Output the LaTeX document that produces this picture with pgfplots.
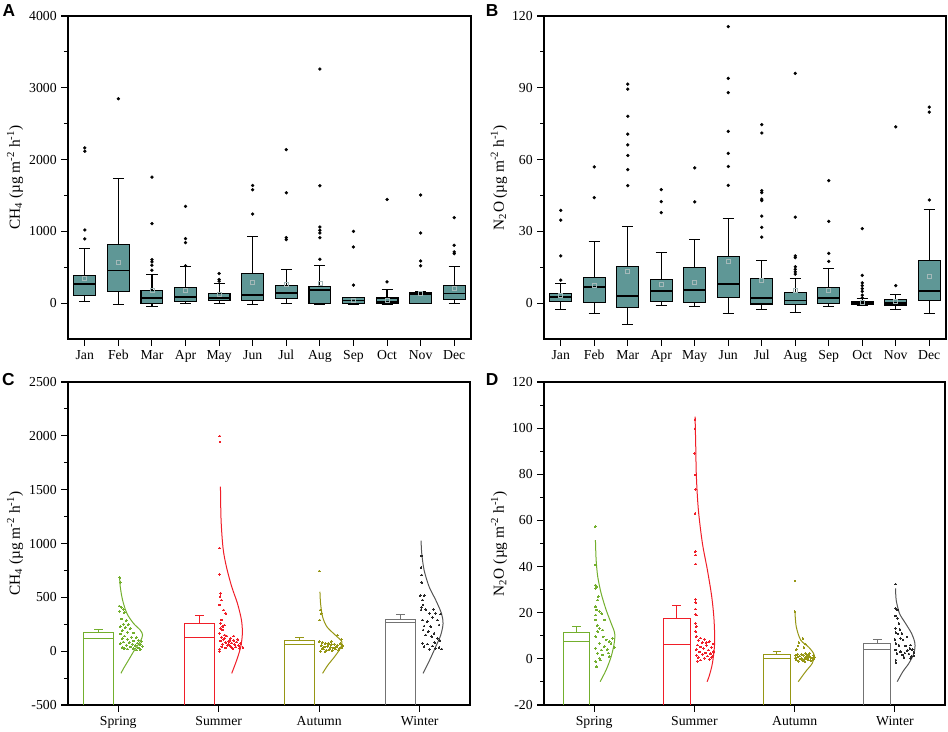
\documentclass[border=0pt]{standalone}
\usepackage{pgfplots}
\pgfplotsset{compat=1.18}
\usepgfplotslibrary{statistics}
\usepackage{fontspec}
\setmainfont{Liberation Serif}
\newfontfamily\panelfont{Liberation Sans}
\definecolor{boxteal}{RGB}{95,151,150}
\definecolor{meanc}{RGB}{165,185,185}
\definecolor{spr}{RGB}{115,175,45}
\definecolor{sum}{RGB}{240,30,40}
\definecolor{aut}{RGB}{150,150,20}
\definecolor{winbar}{RGB}{115,115,115}
\definecolor{wincur}{RGB}{85,85,85}
\definecolor{windot}{RGB}{40,40,40}
\pgfplotsset{
  panel/.style={scale only axis, axis line style={line width=0.9pt},
    tick style={line width=0.8pt, black}, tick align=outside,
    xtick pos=bottom, ytick pos=left, major tick length=5pt, minor tick length=3pt,
    minor y tick num=1, scaled y ticks=false,
    tick label style={font=\fontsize{10.3}{12}\selectfont},
    label style={font=\fontsize{11.5}{13}\selectfont},
    /pgf/number format/assume math mode=true,
    /pgf/number format/1000 sep={}},
  mybox/.style={boxplot/draw direction=y, boxplot/box extend=0.65, boxplot/whisker extend=0.33,
    boxplot/every box/.style={draw=black,fill=boxteal,line width=0.9pt},
    boxplot/every whisker/.style={black,line width=0.9pt},
    boxplot/every median/.style={black,line width=1.4pt},
    black, mark=*, mark size=1.1pt, mark options={fill=black,draw=black,line width=0.3pt}},
  meanmk/.style={only marks, mark=square, mark size=1.5pt, mark options={draw=meanc, line width=0.5pt}},
  dots/.style={only marks, mark=*, mark size=0.65pt, mark options={line width=0pt}},
  curve/.style={smooth, no marks, line width=0.75pt},
  barline/.style={no marks, line width=0.75pt}
}
\begin{document}
\begin{tikzpicture}
\useasboundingbox (0,0) rectangle (711pt,-548.25pt);
\node[font=\panelfont\bfseries\fontsize{13}{13}\selectfont] at (6.75pt,-8.25pt) {A};
\node[font=\panelfont\bfseries\fontsize{13}{13}\selectfont] at (369pt,-7.9pt) {B};
\node[font=\panelfont\bfseries\fontsize{13}{13}\selectfont] at (6.2pt,-284.8pt) {C};
\node[font=\panelfont\bfseries\fontsize{13}{13}\selectfont] at (369pt,-285pt) {D};

% ---------------- A ----------------
\begin{axis}[panel, at={(51pt,-254.25pt)}, anchor=south west, width=302.25pt, height=242.25pt,
  xmin=0.5, xmax=12.5, ymin=-500, ymax=4000, ytick={0,1000,2000,3000,4000},
  xtick={1,...,12}, xticklabels={Jan,Feb,Mar,Apr,May,Jun,Jul,Aug,Sep,Oct,Nov,Dec},
  ylabel={CH\textsubscript{4} (µg m\textsuperscript{-2} h\textsuperscript{-1})},
  ylabel style={at={(axis description cs:-0.1315,0.5)}, anchor=center}]
\addplot[mybox, boxplot prepared={draw position=1, lower whisker=19, lower quartile=111, median=264, upper quartile=384, upper whisker=759}] coordinates {(0,2162) (0,2116) (0,1019) (0,894)};
\addplot[mybox, boxplot prepared={draw position=2, lower whisker=-19, lower quartile=167, median=454, upper quartile=815, upper whisker=1741}] coordinates {(0,2848)};
\addplot[mybox, boxplot prepared={draw position=3, lower whisker=-42, lower quartile=-5, median=74, upper quartile=176, upper whisker=403}] coordinates {(0,1755) (0,1107) (0,607) (0,574) (0,528) (0,458)};
\addplot[mybox, boxplot prepared={draw position=4, lower whisker=-9, lower quartile=19, median=88, upper quartile=218, upper whisker=505}] coordinates {(0,1347) (0,898) (0,843) (0,519)};
\addplot[mybox, boxplot prepared={draw position=5, lower whisker=-9, lower quartile=32, median=74, upper quartile=139, upper whisker=273}] coordinates {(0,412) (0,329) (0,306)};
\addplot[mybox, boxplot prepared={draw position=6, lower whisker=-19, lower quartile=32, median=111, upper quartile=412, upper whisker=931}] coordinates {(0,1639) (0,1579) (0,1241)};
\addplot[mybox, boxplot prepared={draw position=7, lower whisker=-5, lower quartile=65, median=144, upper quartile=241, upper whisker=463}] coordinates {(0,2139) (0,1537) (0,912) (0,884)};
\addplot[mybox, boxplot prepared={draw position=8, lower whisker=-19, lower quartile=-5, median=185, upper quartile=236, upper whisker=519}] coordinates {(0,3260) (0,1634) (0,1060) (0,1014) (0,977) (0,912) (0,611)};
\addplot[mybox, boxplot prepared={draw position=9, lower whisker=-14, lower quartile=-5, median=37, upper quartile=74, upper whisker=79}] coordinates {(0,1000) (0,782) (0,250)};
\addplot[mybox, boxplot prepared={draw position=10, lower whisker=-19, lower quartile=-9, median=21, upper quartile=70, upper whisker=185}] coordinates {(0,1444) (0,296)};
\addplot[mybox, boxplot prepared={draw position=11, lower whisker=-9, lower quartile=-5, median=125, upper quartile=153, upper whisker=157}] coordinates {(0,1505) (0,977) (0,588) (0,519)};
\addplot[mybox, boxplot prepared={draw position=12, lower whisker=-9, lower quartile=46, median=134, upper quartile=241, upper whisker=505}] coordinates {(0,1190) (0,806) (0,713) (0,690)};
\addplot[meanmk] coordinates {(1,352) (2,574) (3,180) (4,176) (5,116) (6,287) (7,259) (8,273) (9,42) (10,32) (11,134) (12,199)};
\end{axis}

% ---------------- B ----------------
\begin{axis}[panel, at={(408pt,-254.25pt)}, anchor=south west, width=301.5pt, height=242.25pt,
  xmin=0.5, xmax=12.5, ymin=-15, ymax=120, ytick={0,30,60,90,120},
  xtick={1,...,12}, xticklabels={Jan,Feb,Mar,Apr,May,Jun,Jul,Aug,Sep,Oct,Nov,Dec},
  ylabel={N\textsubscript{2}O (µg m\textsuperscript{-2} h\textsuperscript{-1})},
  ylabel style={at={(axis description cs:-0.112,0.5)}, anchor=center}]
\addplot[mybox, boxplot prepared={draw position=1, lower whisker=-2.8, lower quartile=0.7, median=2.65, upper quartile=4.0, upper whisker=8.1}] coordinates {(0,38.8) (0,34.7) (0,19.7) (0,9.6)};
\addplot[mybox, boxplot prepared={draw position=2, lower whisker=-4.5, lower quartile=0.1, median=6.6, upper quartile=10.7, upper whisker=25.7}] coordinates {(0,56.9) (0,44.1)};
\addplot[mybox, boxplot prepared={draw position=3, lower whisker=-8.8, lower quartile=-1.8, median=2.8, upper quartile=15.2, upper whisker=31.9}] coordinates {(0,91.5) (0,89.4) (0,78.1) (0,70.6) (0,66.1) (0,61.7) (0,55.8) (0,49.1)};
\addplot[mybox, boxplot prepared={draw position=4, lower whisker=-1.1, lower quartile=0.7, median=5.2, upper quartile=9.9, upper whisker=21.3}] coordinates {(0,47.4) (0,42.4) (0,37.8)};
\addplot[mybox, boxplot prepared={draw position=5, lower whisker=-1.5, lower quartile=0.3, median=5.4, upper quartile=14.9, upper whisker=26.5}] coordinates {(0,56.5) (0,42.3)};
\addplot[mybox, boxplot prepared={draw position=6, lower whisker=-4.2, lower quartile=2.5, median=8.1, upper quartile=19.4, upper whisker=35.2}] coordinates {(0,115.6) (0,93.9) (0,88.0) (0,71.8) (0,62.6) (0,57.1) (0,49.2)};
\addplot[mybox, boxplot prepared={draw position=7, lower whisker=-2.8, lower quartile=-0.4, median=2.0, upper quartile=10.3, upper whisker=17.9}] coordinates {(0,74.6) (0,71.1) (0,47.0) (0,46.2) (0,43.5) (0,42.8) (0,36.4) (0,31.7) (0,27.6)};
\addplot[mybox, boxplot prepared={draw position=8, lower whisker=-3.9, lower quartile=-0.6, median=1.1, upper quartile=4.3, upper whisker=10.3}] coordinates {(0,96.0) (0,35.9) (0,19.7) (0,19.0) (0,15.2) (0,14.1) (0,13.1) (0,12.1)};
\addplot[mybox, boxplot prepared={draw position=9, lower whisker=-1.3, lower quartile=0, median=2.0, upper quartile=6.6, upper whisker=14.5}] coordinates {(0,51.2) (0,34.2) (0,20.8) (0,17.4)};
\addplot[mybox, boxplot prepared={draw position=10, lower whisker=-1.0, lower quartile=-0.7, median=0, upper quartile=0.6, upper whisker=1.8}] coordinates {(0,31.1) (0,11.6) (0,8.5) (0,7.3) (0,6.1) (0,4.9) (0,3.3) (0,2.2)};
\addplot[mybox, boxplot prepared={draw position=11, lower whisker=-2.8, lower quartile=-0.8, median=0.1, upper quartile=1.4, upper whisker=3.6}] coordinates {(0,73.7) (0,7.3)};
\addplot[mybox, boxplot prepared={draw position=12, lower whisker=-4.3, lower quartile=1.0, median=5.0, upper quartile=17.7, upper whisker=39.2}] coordinates {(0,81.9) (0,79.8) (0,43.1)};
\addplot[meanmk] coordinates {(1,3.3) (2,7.4) (3,13.4) (4,8.0) (5,8.5) (6,17.3) (7,9.5) (8,5.4) (9,5.3) (10,0.3) (11,0.6) (12,11.0)};
\end{axis}

% ---------------- C ----------------
\begin{axis}[panel, at={(51pt,-528.75pt)}, anchor=south west, width=301.5pt, height=242.25pt,
  xmin=0.5, xmax=4.5, ymin=-500, ymax=2500, ytick={-500,0,500,1000,1500,2000,2500},
  xtick={1,2,3,4}, xticklabels={Spring,Summer,Autumn,Winter},
  ylabel={CH\textsubscript{4} (µg m\textsuperscript{-2} h\textsuperscript{-1})},
  ylabel style={at={(axis description cs:-0.1318,0.5)}, anchor=center}]
\addplot[barline, spr] coordinates {(0.655,-500) (0.655,174) (0.957,174) (0.957,-500)};
\addplot[barline, spr] coordinates {(0.655,118) (0.957,118)};
\addplot[barline, spr] coordinates {(0.806,174) (0.806,205)};
\addplot[barline, spr] coordinates {(0.763,205) (0.849,205)};
\addplot[barline, sum] coordinates {(1.655,-500) (1.655,254) (1.957,254) (1.957,-500)};
\addplot[barline, sum] coordinates {(1.655,124) (1.957,124)};
\addplot[barline, sum] coordinates {(1.806,254) (1.806,335)};
\addplot[barline, sum] coordinates {(1.763,335) (1.849,335)};
\addplot[barline, aut] coordinates {(2.655,-500) (2.655,96) (2.957,96) (2.957,-500)};
\addplot[barline, aut] coordinates {(2.655,65) (2.957,65)};
\addplot[barline, aut] coordinates {(2.806,96) (2.806,127)};
\addplot[barline, aut] coordinates {(2.763,127) (2.849,127)};
\addplot[barline, winbar] coordinates {(3.655,-500) (3.655,296) (3.957,296) (3.957,-500)};
\addplot[barline, winbar] coordinates {(3.655,268) (3.957,268)};
\addplot[barline, winbar] coordinates {(3.806,296) (3.806,341)};
\addplot[barline, winbar] coordinates {(3.763,341) (3.849,341)};
\addplot[curve, spr] coordinates {(1.013,692) (1.02,599) (1.043,475) (1.086,351) (1.152,258) (1.218,197) (1.242,150) (1.218,88) (1.162,11) (1.103,-82) (1.053,-160) (1.027,-206)};
\addplot[curve, sum] coordinates {(2.017,1528) (2.023,1218) (2.043,955) (2.076,785) (2.129,599) (2.186,444) (2.226,289) (2.235,165) (2.219,42) (2.179,-82) (2.129,-206)};
\addplot[curve, aut] coordinates {(3.007,552) (3.013,444) (3.033,320) (3.076,227) (3.159,150) (3.225,88) (3.209,26) (3.153,-51) (3.086,-129) (3.033,-206)};
\addplot[curve, wincur] coordinates {(4.013,1026) (4.02,908) (4.043,754) (4.093,599) (4.159,475) (4.216,351) (4.232,258) (4.209,150) (4.159,42) (4.099,-82) (4.033,-206)};
\addplot[dots, spr] coordinates {(1.013,683) (1.02,640) (1.01,419) (1.03,407) (1.05,390) (1.015,370) (1.06,360) (1.03,300) (1.08,285) (1.05,250) (1.10,245) (1.02,230) (1.07,220) (1.12,210) (1.04,190) (1.09,175) (1.15,170) (1.02,160) (1.06,140) (1.13,130) (1.18,125) (1.04,115) (1.09,110) (1.20,100) (1.15,95) (1.23,90) (1.05,85) (1.11,80) (1.19,75) (1.02,70) (1.14,65) (1.22,60) (1.08,55) (1.17,50) (1.24,45) (1.12,40) (1.04,35) (1.20,30) (1.15,25) (1.09,20) (1.22,15) (1.18,10) (1.06,25)};
\addplot[dots, sum] coordinates {(2.01,1998) (2.013,1943) (2.007,958) (2.007,714) (2.02,537) (2.013,506) (2.026,475) (2.01,429) (2.05,382) (2.07,351) (2.03,290) (2.056,243) (2.02,212) (2.036,197) (2.007,166) (2.06,150) (2.02,260) (2.04,230) (2.03,130) (2.08,140) (2.12,120) (2.05,110) (2.15,100) (2.02,95) (2.10,90) (2.18,85) (2.07,80) (2.13,75) (2.22,70) (2.04,65) (2.16,60) (2.09,55) (2.20,50) (2.12,45) (2.03,40) (2.17,38) (2.24,35) (2.07,30) (2.14,25) (2.21,28) (2.11,100) (2.19,110) (2.06,120) (2.24,30) (2.01,20) (2.10,60) (2.15,140) (2.01,0)};
\addplot[dots, aut] coordinates {(3.0,744) (3.01,382) (3.02,350) (3.005,289) (3.0,88) (3.03,80) (3.06,70) (3.09,75) (3.12,60) (3.15,65) (3.18,55) (3.21,70) (3.02,50) (3.05,40) (3.08,45) (3.11,35) (3.14,30) (3.17,40) (3.20,25) (3.23,50) (3.04,20) (3.07,10) (3.10,15) (3.13,5) (3.16,20) (3.19,10) (3.01,0) (3.06,-5) (3.22,30) (3.18,150) (3.22,110) (3.09,60) (3.12,90) (3.03,25)};
\addplot[dots, windot] coordinates {(4.02,884) (4.013,778) (4.02,707) (4.02,639) (4.006,515) (4.046,515) (4.027,475) (4.033,429) (4.02,407) (4.013,382) (4.06,388) (4.139,388) (4.099,351) (4.159,351) (4.126,314) (4.209,345) (4.027,289) (4.076,274) (4.176,289) (4.043,233) (4.109,227) (4.192,243) (4.033,196) (4.086,181) (4.143,165) (4.06,150) (4.119,134) (4.176,119) (4.027,72) (4.076,66) (4.126,48) (4.159,26) (4.192,35) (4.043,42) (4.099,17) (4.20,100) (4.15,80) (4.22,20)};
\end{axis}

% ---------------- D ----------------
\begin{axis}[panel, at={(408pt,-528.75pt)}, anchor=south west, width=300.75pt, height=242.25pt,
  xmin=0.5, xmax=4.5, ymin=-20, ymax=120, ytick={-20,0,20,40,60,80,100,120},
  xtick={1,2,3,4}, xticklabels={Spring,Summer,Autumn,Winter},
  ylabel={N\textsubscript{2}O (µg m\textsuperscript{-2} h\textsuperscript{-1})},
  ylabel style={at={(axis description cs:-0.112,0.5)}, anchor=center}]
\addplot[barline, spr] coordinates {(0.691,-20) (0.691,11.35) (0.957,11.35) (0.957,-20)};
\addplot[barline, spr] coordinates {(0.691,7.45) (0.957,7.45)};
\addplot[barline, spr] coordinates {(0.824,11.35) (0.824,13.95)};
\addplot[barline, spr] coordinates {(0.781,13.95) (0.867,13.95)};
\addplot[barline, sum] coordinates {(1.691,-20) (1.691,17.57) (1.957,17.57) (1.957,-20)};
\addplot[barline, sum] coordinates {(1.691,6.3) (1.957,6.3)};
\addplot[barline, sum] coordinates {(1.824,17.57) (1.824,23.0)};
\addplot[barline, sum] coordinates {(1.781,23.0) (1.867,23.0)};
\addplot[barline, aut] coordinates {(2.691,-20) (2.691,1.8) (2.957,1.8) (2.957,-20)};
\addplot[barline, aut] coordinates {(2.691,0.2) (2.957,0.2)};
\addplot[barline, aut] coordinates {(2.824,1.8) (2.824,3.0)};
\addplot[barline, aut] coordinates {(2.781,3.0) (2.867,3.0)};
\addplot[barline, winbar] coordinates {(3.691,-20) (3.691,6.7) (3.957,6.7) (3.957,-20)};
\addplot[barline, winbar] coordinates {(3.691,3.9) (3.957,3.9)};
\addplot[barline, winbar] coordinates {(3.824,6.7) (3.824,8.3)};
\addplot[barline, winbar] coordinates {(3.781,8.3) (3.867,8.3)};
\addplot[curve, spr] coordinates {(1.013,51.5) (1.02,42.9) (1.036,35.6) (1.07,28.4) (1.12,21.2) (1.17,15.4) (1.205,11.1) (1.2,6.7) (1.17,1) (1.12,-4.8) (1.06,-9.9)};
\addplot[curve, sum] coordinates {(2.007,105) (2.013,93.4) (2.02,79) (2.04,64.5) (2.08,50.1) (2.13,38.5) (2.173,27) (2.196,16.9) (2.202,6.7) (2.18,-1.9) (2.146,-7.7) (2.126,-9.9)};
\addplot[curve, aut] coordinates {(3.003,20.5) (3.016,14) (3.06,8.2) (3.142,5) (3.195,1.7) (3.176,-1.9) (3.11,-5.5) (3.036,-9.9)};
\addplot[curve, wincur] coordinates {(4.007,30.6) (4.013,25.5) (4.046,19.7) (4.106,15.4) (4.166,11.07) (4.2,6.7) (4.19,2.4) (4.14,-1.9) (4.08,-5.5) (4.023,-9.9)};
\addplot[dots, spr] coordinates {(1.01,57.3) (1.013,40.7) (1.013,32) (1.024,31.3) (1.017,30.6) (1.036,25.5) (1.013,22.6) (1.024,21.2) (1.053,20.5) (1.076,19.7) (1.017,19) (1.102,16.9) (1.013,16.9) (1.053,13.2) (1.086,12.5) (1.036,11.8) (1.017,9.6) (1.12,8.2) (1.152,7.5) (1.186,8.9) (1.169,6.7) (1.053,6.7) (1.102,5.3) (1.017,4.6) (1.07,3.8) (1.036,2.4) (1.086,1.7) (1.152,1) (1.053,0.3) (1.017,-1.2) (1.024,-3.4) (1.13,4) (1.2,5) (1.06,-0.5) (1.14,2.5) (1.03,14.5) (1.09,9.5) (1.04,27)};
\addplot[dots, sum] coordinates {(2.007,103.8) (2.007,99.9) (2.004,89.1) (2.007,79.7) (2.013,73.5) (2.007,63.1) (2.01,46.5) (2.013,45) (2.013,41.1) (2.01,25.8) (2.013,24.4) (2.01,21.6) (2.013,19.4) (2.02,19) (2.013,15.4) (2.02,14) (2.013,11.8) (2.02,9.6) (2.06,9) (2.10,8.5) (2.04,8) (2.15,7.5) (2.08,7) (2.19,6.5) (2.03,6) (2.12,5.8) (2.06,5.2) (2.17,5) (2.09,4.5) (2.02,4) (2.14,3.8) (2.19,3.3) (2.05,3) (2.11,2.6) (2.16,2.2) (2.08,2) (2.02,1.5) (2.13,1.2) (2.18,1) (2.04,0.5) (2.10,0.3) (2.15,-0.2) (2.06,-0.5) (2.19,2.8) (2.12,7) (2.03,-1) (2.17,0.6)};
\addplot[dots, aut] coordinates {(3.003,33.8) (3.003,20.5) (3.083,8.9) (3.043,7) (3.11,6.4) (3.033,5.6) (3.093,5) (3.016,4.1) (3.01,1.5) (3.03,0.8) (3.05,1.2) (3.07,0.2) (3.09,1.6) (3.11,0.5) (3.13,-0.3) (3.15,1) (3.17,0.4) (3.19,1.4) (3.02,-0.5) (3.04,-1) (3.06,0) (3.08,-0.6) (3.10,-1.2) (3.12,0.9) (3.14,1.7) (3.16,-0.8) (3.18,0.1) (3.20,0.7) (3.03,2) (3.07,1.9) (3.11,2.2) (3.15,2.5) (3.005,0.3) (3.095,-0.1) (3.135,0.6) (3.185,-0.4)};
\addplot[dots, windot] coordinates {(4.007,32.4) (4.004,21.9) (4.023,21.2) (4.004,18.6) (4.023,17.6) (4.04,15.4) (4.004,13.2) (4.05,12.8) (4.01,11.3) (4.03,10.8) (4.056,8.9) (4.0,8.5) (4.08,8.2) (4.01,6.7) (4.04,5.9) (4.106,5.6) (4.156,6) (4.004,3.85) (4.056,3.1) (4.123,3.5) (4.173,4.1) (4.02,2.4) (4.073,1.7) (4.14,2.1) (4.19,1.25) (4.01,-0.5) (4.09,0.7) (4.156,0.2) (4.166,1) (4.01,-1.6) (4.12,9.5) (4.07,11) (4.19,2.8) (4.10,2.5) (4.15,4.5)};
\end{axis}
\end{tikzpicture}
\end{document}
